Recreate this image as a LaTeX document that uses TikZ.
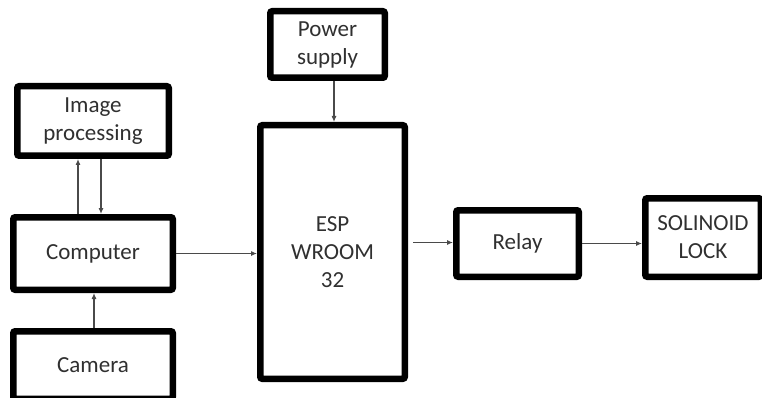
\documentclass[tikz,border=0pt]{standalone}
\usepackage{fontspec}
\setmainfont{Carlito}
\usetikzlibrary{arrows.meta}
\definecolor{txt}{HTML}{303030}
\definecolor{arr}{HTML}{4A4A4A}
\tikzset{
  blk/.style={draw=black, line width=6.5pt, rounded corners=2pt, fill=white,
    inner sep=0pt, align=center, text=txt,
    font=\fontsize{23}{28}\selectfont},
  conn/.style={draw=arr, line width=1.1pt, -{Latex[length=6pt,width=5pt]}}
}
\begin{document}
\begin{tikzpicture}[x=1pt,y=-1pt]
\useasboundingbox (0,0) rectangle (762,398);
\clip (0,0) rectangle (762,398);
\fill[white] (0,0) rectangle (762,398);
\node[blk, minimum width=151.5pt, minimum height=69.5pt] (img) at (93,121) {Image\\processing};
\node[blk, minimum width=159.5pt, minimum height=72.5pt] (comp) at (93,253.5) {Computer};
\node[blk, minimum width=159.5pt, minimum height=67.5pt] (cam) at (93,365) {Camera};
\node[blk, minimum width=114.5pt, minimum height=66.5pt] (pow) at (327.5,44.5) {Power\\supply};
\node[blk, minimum width=144.5pt, minimum height=253.5pt] (esp) at (332.5,252) {ESP\\WROOM\\32};
\node[blk, minimum width=122.5pt, minimum height=66.5pt] (relay) at (517.5,243.5) {Relay};
\node[blk, minimum width=115.5pt, minimum height=78.5pt] (sol) at (703,237.5) {SOLINOID\\LOCK};
\draw[conn] ([xshift=-15pt]comp.north) -- ([xshift=-15pt]img.south);
\draw[conn] ([xshift=8pt]img.south) -- ([xshift=8pt]comp.north);
\draw[conn] ([xshift=1pt]cam.north) -- ([xshift=1pt]comp.south);
\draw[conn] (comp.east) -- (comp.east -| esp.west);
\draw[conn] ([xshift=6.5pt]pow.south) -- ([xshift=6.5pt]pow.south |- esp.north);
\draw[conn] ([xshift=5pt,yshift=1pt]esp.east |- relay.west) -- ([yshift=1pt]relay.west);
\draw[conn] (relay.east) -- (relay.east -| sol.west);
\end{tikzpicture}
\end{document}
